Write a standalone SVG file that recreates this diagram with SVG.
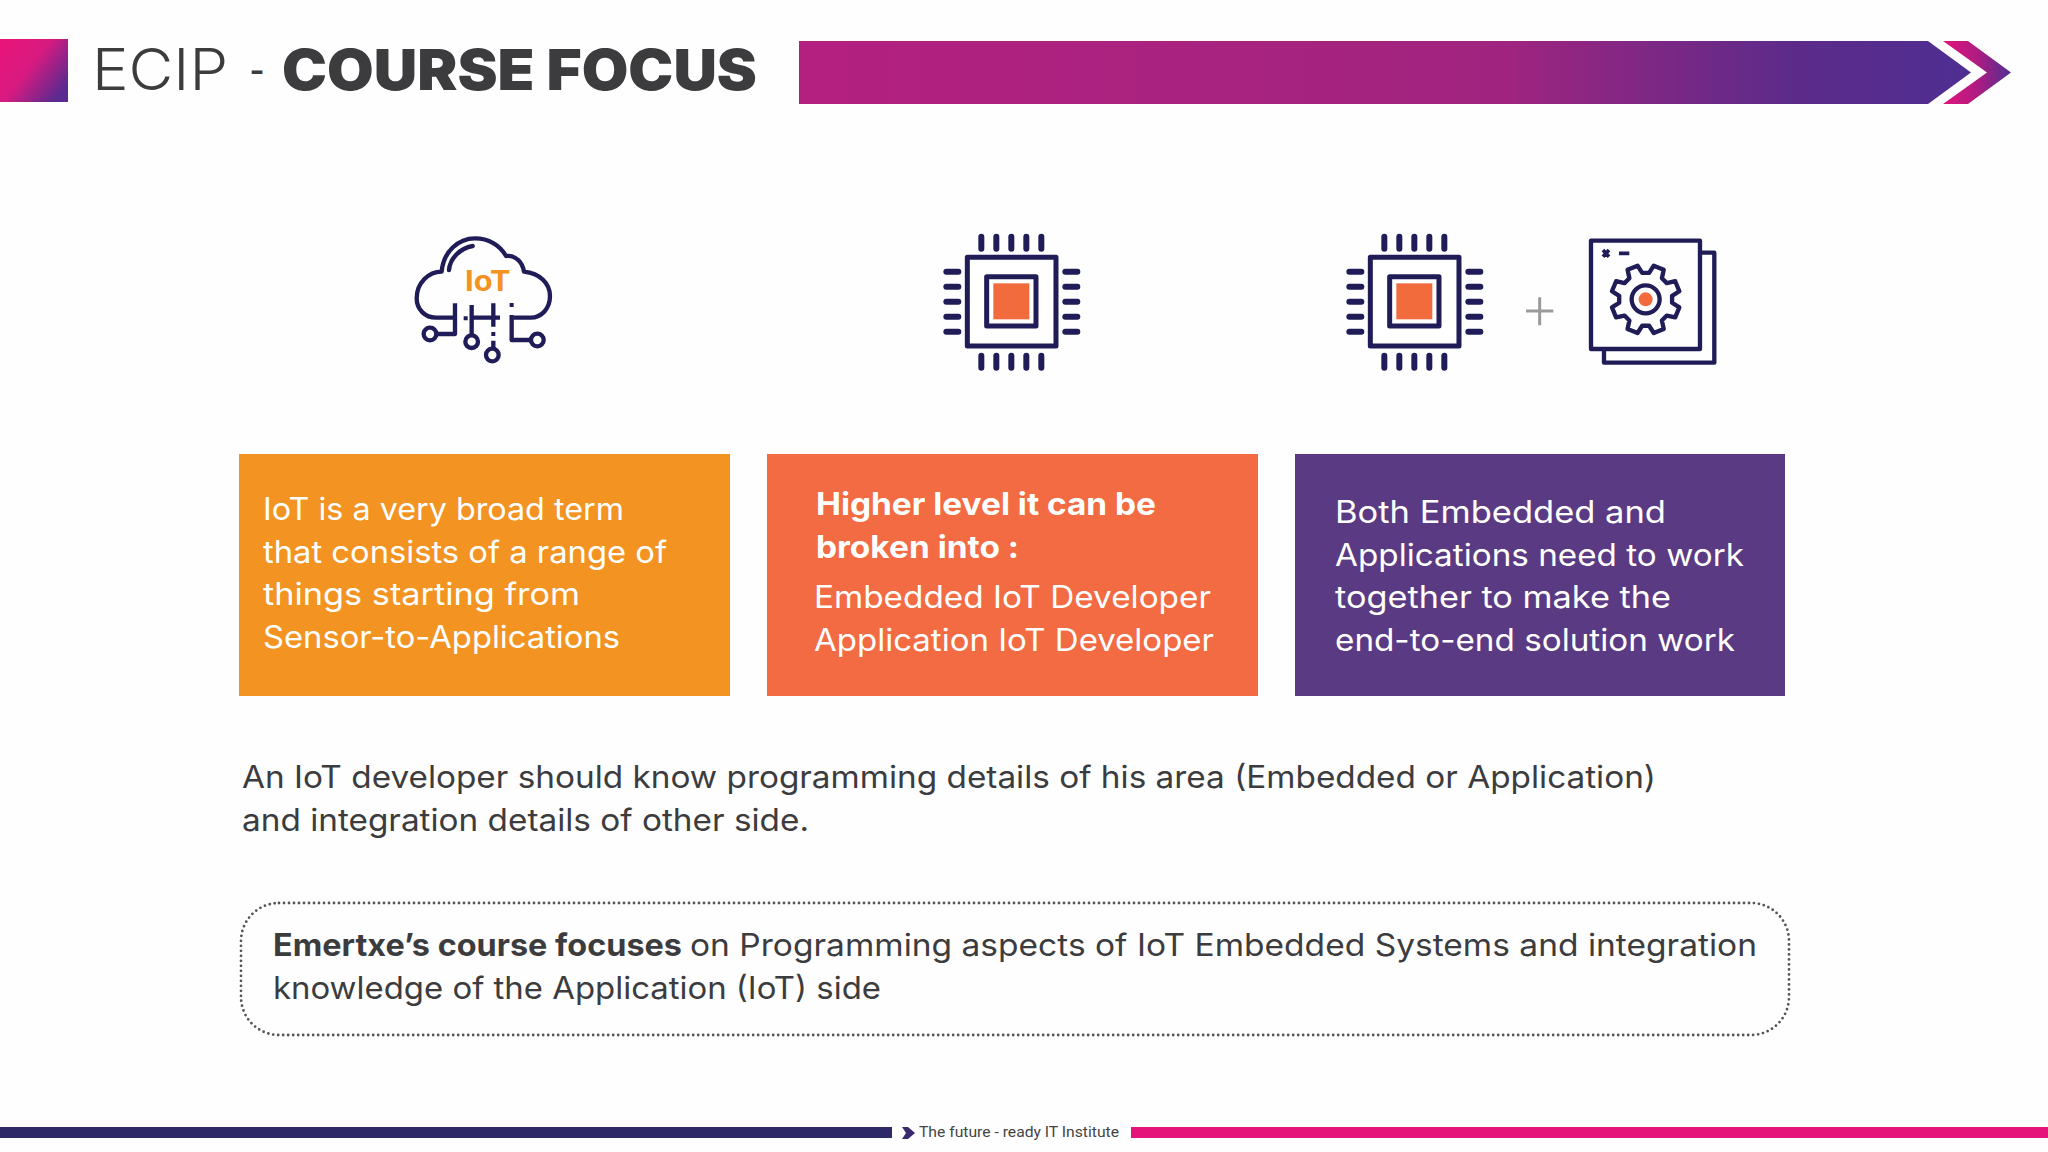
<svg xmlns="http://www.w3.org/2000/svg" width="2048" height="1152" viewBox="0 0 2048 1152">
<style>
text{font-family:Inter,"Liberation Sans",sans-serif;}
.w{fill:#fff;font-size:31px;font-weight:400}
.wb{fill:#fff;font-size:31px;font-weight:700}
.d{fill:#3c3c3e;font-size:31px;font-weight:400}
.db{fill:#3c3c3e;font-size:31px;font-weight:700}
.n{fill:none;stroke:#1f1c58;stroke-width:13;stroke-linejoin:round}
.pin{stroke:#1f1c58;stroke-width:18;stroke-linecap:round}
</style>
<defs>
<linearGradient id="sq" x1="0" y1="0" x2="1" y2="0.7"><stop offset="0" stop-color="#ea1479"/><stop offset="0.5" stop-color="#d81a80"/><stop offset="1" stop-color="#5b2a90"/></linearGradient>
<linearGradient id="bar" gradientUnits="userSpaceOnUse" x1="799" y1="0" x2="1971" y2="0"><stop offset="0" stop-color="#b4207f"/><stop offset="0.6" stop-color="#a0247f"/><stop offset="0.85" stop-color="#5c2b8a"/><stop offset="1" stop-color="#4f2e92"/></linearGradient>
<linearGradient id="chev" gradientUnits="userSpaceOnUse" x1="1943" y1="0" x2="2011" y2="0"><stop offset="0" stop-color="#e0147c"/><stop offset="0.5" stop-color="#b01c82"/><stop offset="1" stop-color="#4f2e92"/></linearGradient>
<g id="chip">
<rect x="112" y="112" width="266" height="266" fill="#fff" stroke="#1f1c58" stroke-width="15" stroke-linejoin="round"/>
<rect x="170" y="170" width="148" height="148" fill="#fff" stroke="#1f1c58" stroke-width="15" stroke-linejoin="round"/>
<rect x="190" y="190" width="108" height="108" fill="#f26b3d"/>
<path class="pin" d="M154 50V86M199 50V86M244 50V86M289 50V86M334 50V86M154 407V443M199 407V443M244 407V443M289 407V443M334 407V443M49 155H85M49 200H85M49 245H85M49 290H85M49 335H85M406 155H442M406 200H442M406 245H442M406 290H442M406 335H442"/>
</g>
</defs>
<rect width="2048" height="1152" fill="#fefefe"/>

<g id="header">
<rect x="0" y="39" width="68" height="63" fill="url(#sq)"/>
<text x="92" y="90" font-size="57" font-weight="300" fill="#3c3c3e" textLength="136" lengthAdjust="spacingAndGlyphs">ECIP</text>
<text x="249" y="90" font-size="57" font-weight="300" fill="#3c3c3e" textLength="16" lengthAdjust="spacingAndGlyphs">-</text>
<text x="282" y="90" font-size="57" font-weight="900" fill="#3c3c3e" textLength="475" lengthAdjust="spacingAndGlyphs">COURSE FOCUS</text>
<path d="M799 41H1928L1971 72.500L1928 104H799Z" fill="url(#bar)"/>
<path d="M1943 41H1968L2011 72.500L1968 104H1943L1987 72.500Z" fill="url(#chev)"/>
</g>

<g id="icon-iot" transform="translate(400 220) scale(.3333)">
<path class="n" d="M165 293H108C75 293 50 268 50 235C50 190 85 155 125 155C130 95 175 55 225 55C265 55 300 75 318 108C350 105 368 130 372 155C420 160 450 190 450 228C450 265 425 293 392 293H340M215 293H300"/>
<path class="n" d="M147 150C150 115 180 85 218 78" stroke-linecap="round"/>
<path class="n" d="M165 250V342H110M215 255V345M280 250V320M280 362V385M335 285V360H392"/>
<circle class="n" cx="90" cy="342" r="19"/><circle class="n" cx="215" cy="365" r="19"/><circle class="n" cx="277" cy="405" r="19"/><circle class="n" cx="412" cy="360" r="19"/>
<path d="M191 289h12v12h-12zM274 336h12v12h-12zM329 249h12v12h-12z" fill="#1f1c58"/>
<text x="195" y="213" font-size="84" font-weight="700" fill="#f39322" textLength="137" lengthAdjust="spacingAndGlyphs">IoT</text>
</g>

<g id="icon-chip-1" transform="translate(930 220) scale(.3333)"><use href="#chip"/></g>
<g id="icon-chip-2" transform="translate(1333 220) scale(.3333)"><use href="#chip"/></g>

<g id="plus" transform="translate(1500 220) scale(.3333)">
<path d="M78 273H160M119 232V316" stroke="#9a9a9a" stroke-width="9" fill="none"/>
</g>

<g id="icon-app" transform="translate(1500 220) scale(.3333)">
<path class="n" d="M600 98H643V428H312V387"/>
<rect class="n" x="273" y="62" width="327" height="325"/>
<path d="M309 90L327 110M327 90L309 110M357 100H388" stroke="#1f1c58" stroke-width="11" fill="none"/>
<path class="n" transform="translate(437 238)" d="M79.300 10.400L101.100 24.300L88.700 54.300L63.500 48.700L48.700 63.500L54.300 88.700L24.300 101.100L10.400 79.300L-10.400 79.300L-24.300 101.100L-54.300 88.700L-48.700 63.500L-63.500 48.700L-88.700 54.300L-101.100 24.300L-79.300 10.400L-79.300 -10.400L-101.100 -24.300L-88.700 -54.300L-63.500 -48.700L-48.700 -63.500L-54.300 -88.700L-24.300 -101.100L-10.400 -79.300L10.400 -79.300L24.300 -101.100L54.300 -88.700L48.700 -63.500L63.500 -48.700L88.700 -54.300L101.100 -24.300L79.300 -10.400Z"/>
<circle class="n" cx="437" cy="238" r="42"/>
<circle cx="437" cy="238" r="21" fill="#f26b3d"/>
</g>

<g id="card-1">
<rect x="239" y="454" width="491" height="242" fill="#f39322"/>
<text class="w" x="263" y="520" textLength="361" lengthAdjust="spacingAndGlyphs">IoT is a very broad term</text>
<text class="w" x="263" y="563" textLength="404" lengthAdjust="spacingAndGlyphs">that consists of a range of</text>
<text class="w" x="263" y="605" textLength="317" lengthAdjust="spacingAndGlyphs">things starting from</text>
<text class="w" x="263" y="648" textLength="357" lengthAdjust="spacingAndGlyphs">Sensor-to-Applications</text>
</g>
<g id="card-2">
<rect x="767" y="454" width="491" height="242" fill="#f26b43"/>
<text class="wb" x="816" y="515" textLength="340" lengthAdjust="spacingAndGlyphs">Higher level it can be</text>
<text class="wb" x="816" y="558" textLength="203" lengthAdjust="spacingAndGlyphs">broken into :</text>
<text class="w" x="814" y="608" textLength="397" lengthAdjust="spacingAndGlyphs">Embedded IoT Developer</text>
<text class="w" x="814" y="651" textLength="400" lengthAdjust="spacingAndGlyphs">Application IoT Developer</text>
</g>
<g id="card-3">
<rect x="1295" y="454" width="490" height="242" fill="#5a3a82"/>
<text class="w" x="1335" y="523" textLength="331" lengthAdjust="spacingAndGlyphs">Both Embedded and</text>
<text class="w" x="1335" y="566" textLength="409" lengthAdjust="spacingAndGlyphs">Applications need to work</text>
<text class="w" x="1335" y="608" textLength="336" lengthAdjust="spacingAndGlyphs">together to make the</text>
<text class="w" x="1335" y="651" textLength="400" lengthAdjust="spacingAndGlyphs">end-to-end solution work</text>
</g>

<g id="paragraph">
<text class="d" x="242" y="788" textLength="1414" lengthAdjust="spacingAndGlyphs">An IoT developer should know programming details of his area (Embedded or Application)</text>
<text class="d" x="242" y="831" textLength="567" lengthAdjust="spacingAndGlyphs">and integration details of other side.</text>
</g>

<g id="callout">
<rect x="241" y="903" width="1548" height="132" rx="38" fill="#fefefe" stroke="#555" stroke-width="2.800" stroke-linecap="round" stroke-dasharray="0 5"/>
<text class="db" x="273" y="956" textLength="409" lengthAdjust="spacingAndGlyphs">Emertxe’s course focuses</text>
<text class="d" x="690" y="956" textLength="1067" lengthAdjust="spacingAndGlyphs">on Programming aspects of IoT Embedded Systems and integration</text>
<text class="d" x="273" y="999" textLength="608" lengthAdjust="spacingAndGlyphs">knowledge of the Application (IoT) side</text>
</g>

<g id="footer">
<rect x="0" y="1127" width="892" height="11" fill="#2e2a68"/>
<rect x="1131" y="1127" width="917" height="11" fill="#e5147a"/>
<path d="M902 1127H908L915 1133L908 1139H902L906 1133Z" fill="#3a2a70"/>
<text x="919" y="1137" font-size="15" fill="#444" style="font-family:Roboto,sans-serif" textLength="200" lengthAdjust="spacingAndGlyphs">The future - ready IT Institute</text>
</g>
</svg>
